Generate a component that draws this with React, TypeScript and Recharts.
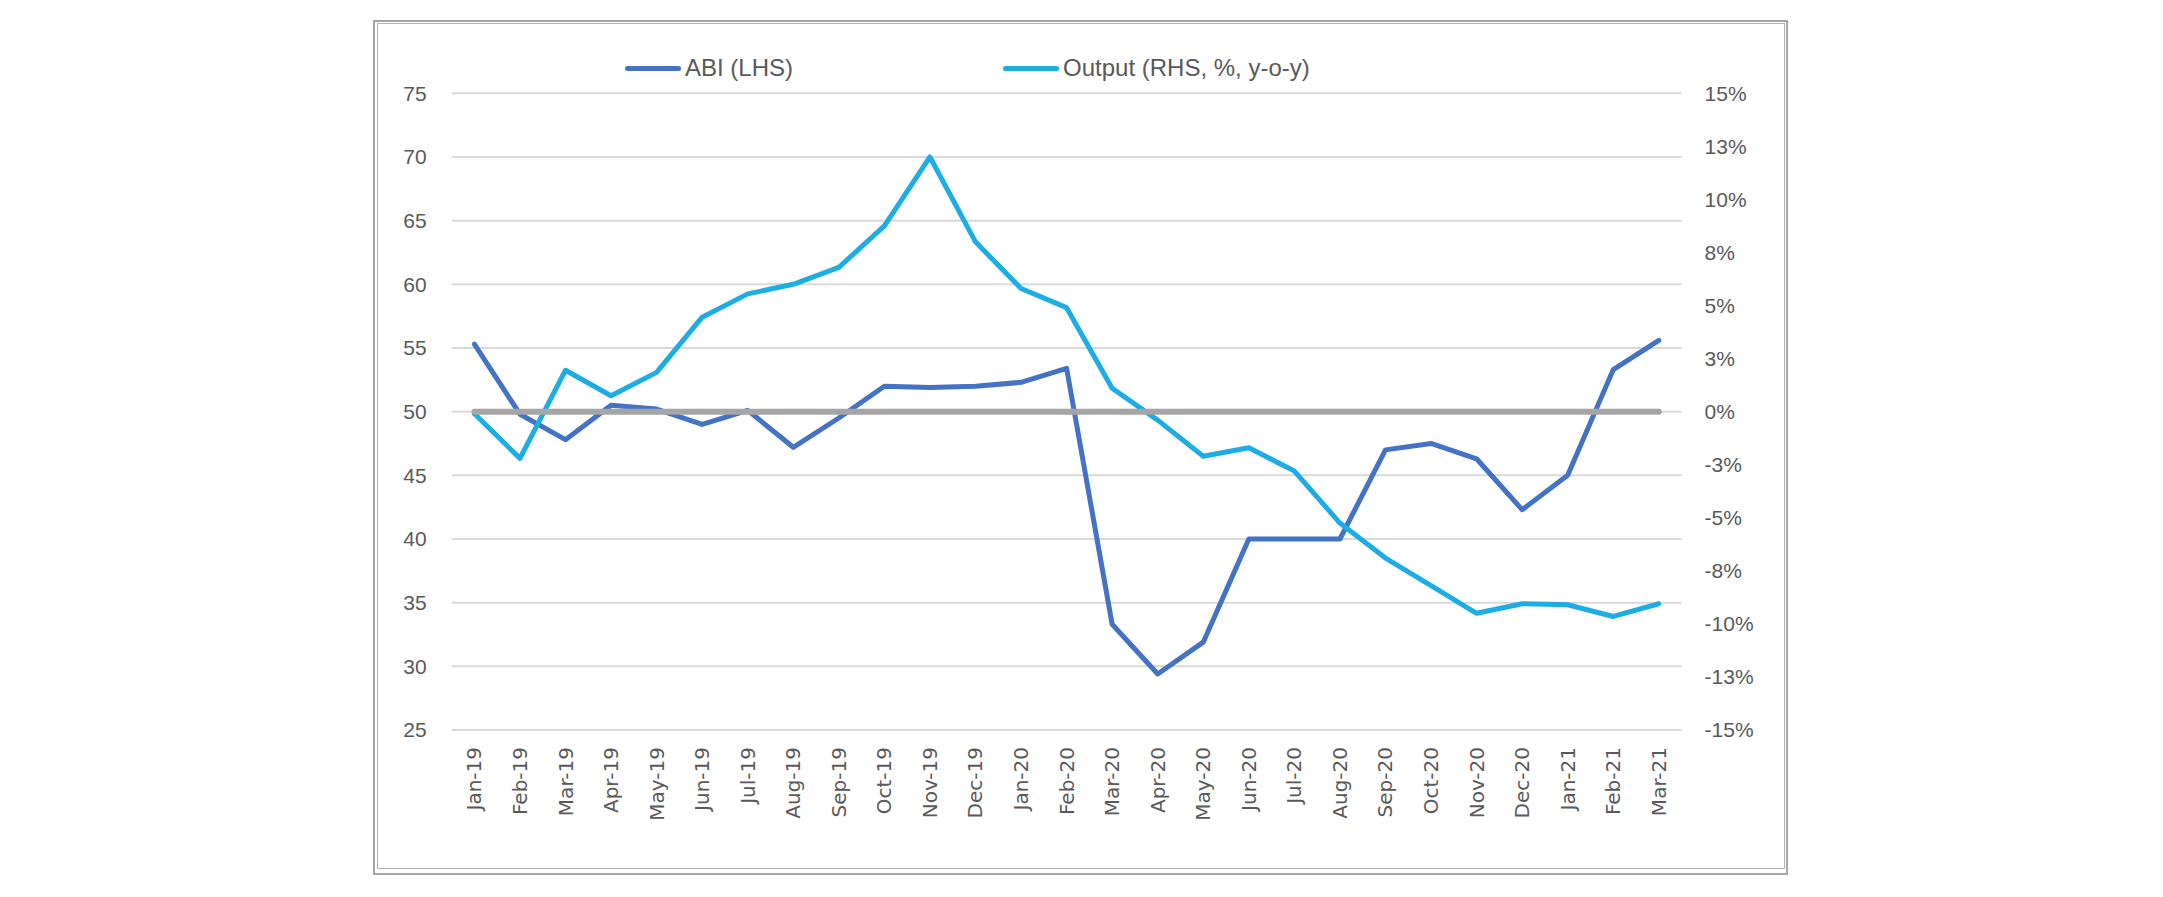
import React from 'react';
import { LineChart, Line, XAxis, YAxis, CartesianGrid, Legend } from 'recharts';

const months = [
  'Jan-19', 'Feb-19', 'Mar-19', 'Apr-19', 'May-19', 'Jun-19', 'Jul-19', 'Aug-19', 'Sep-19',
  'Oct-19', 'Nov-19', 'Dec-19', 'Jan-20', 'Feb-20', 'Mar-20', 'Apr-20', 'May-20', 'Jun-20',
  'Jul-20', 'Aug-20', 'Sep-20', 'Oct-20', 'Nov-20', 'Dec-20', 'Jan-21', 'Feb-21', 'Mar-21',
];

const abi = [
  55.3, 49.8, 47.8, 50.5, 50.2, 49.0, 50.1, 47.2, 49.5,
  52.0, 51.9, 52.0, 52.3, 53.4, 33.3, 29.4, 31.9, 40.0,
  40.0, 40.0, 47.0, 47.5, 46.3, 42.3, 45.0, 53.3, 55.6,
];

const output = [
  -0.1, -2.2, 1.95, 0.75, 1.85, 4.45, 5.55, 6.0, 6.8,
  8.75, 12.0, 8.0, 5.8, 4.9, 1.1, -0.4, -2.1, -1.7,
  -2.8, -5.25, -6.9, -8.2, -9.5, -9.05, -9.1, -9.65, -9.05,
];

const baseline = 50;

const leftTicks = [25, 30, 35, 40, 45, 50, 55, 60, 65, 70, 75];
const rightTicks = [-15, -12.5, -10, -7.5, -5, -2.5, 0, 2.5, 5, 7.5, 10, 12.5, 15];

const seriesNames = { abi: 'ABI (LHS)', output: 'Output (RHS, %, y-o-y)' };

const data = months.map((m, i) => ({ month: m, abi: abi[i], output: output[i], zero: baseline }));

const TEXT = '#595959';

const fmtPct = (v: number) => {
  const r = Math.sign(v) * Math.round(Math.abs(v));
  return `${r === 0 ? 0 : r}%`;
};

const XTick = (props: any) => {
  const { x, y, payload } = props;
  const ty = y + 17;
  return (
    <text
      x={x}
      y={ty}
      transform={`rotate(-90 ${x} ${ty})`}
      textAnchor="end"
      dominantBaseline="central"
      fill={TEXT}
      fontSize={20}
      fontFamily="'DejaVu Sans', Verdana, sans-serif"
    >
      {payload.value}
    </text>
  );
};

const renderLegend = (props: any) => {
  const { payload } = props;
  const items = (payload || []).filter((p: any) => p.type !== 'none' && p.dataKey !== 'zero');
  return (
    <div style={{ display: 'flex', alignItems: 'center', gap: 210 }}>
      {items.map((p: any) => (
        <div key={p.value} style={{ display: 'flex', alignItems: 'center' }}>
          <span
            style={{
              display: 'inline-block',
              width: 56,
              height: 5,
              borderRadius: 3,
              background: p.color,
              marginRight: 4,
            }}
          />
          <span style={{ fontFamily: "'Liberation Sans', Arial, sans-serif", fontSize: 24, color: TEXT, lineHeight: '28px' }}>
            {p.value}
          </span>
        </div>
      ))}
    </div>
  );
};

export default function App() {
  const W = 2140;
  const H = 880;
  return (
    <div style={{ position: 'relative', width: W, height: H }}>
      <LineChart
        width={W}
        height={H}
        data={data}
        margin={{ top: 85.3, right: 386.4, bottom: 58, left: 363.6 }}
      >
        <CartesianGrid yAxisId="left" vertical={false} stroke="#D9D9D9" strokeWidth={2} />
        <XAxis
          dataKey="month"
          interval={0}
          tickLine={false}
          axisLine={false}
          tickSize={0}
          tickMargin={0}
          padding={{ left: 22.8, right: 22.8 }}
          height={100}
          tick={<XTick />}
        />
        <YAxis
          yAxisId="left"
          domain={[25, 75]}
          ticks={leftTicks}
          interval={0}
          tickLine={false}
          axisLine={false}
          tickSize={0}
          tickMargin={25}
          width={80}
          tick={{ fill: TEXT, fontSize: 21, fontFamily: "'Liberation Sans', Arial, sans-serif" }}
        />
        <YAxis
          yAxisId="right"
          orientation="right"
          domain={[-15, 15]}
          ticks={rightTicks}
          interval={0}
          tickLine={false}
          axisLine={false}
          tickSize={0}
          tickMargin={23}
          width={80}
          tickFormatter={fmtPct}
          tick={{ fill: TEXT, fontSize: 21, fontFamily: "'Liberation Sans', Arial, sans-serif", textAnchor: 'start' }}
        />
        <Legend
          verticalAlign="middle"
          layout="horizontal"
          content={renderLegend}
          wrapperStyle={{ top: 46, left: 617, width: 'auto' }}
        />
        <Line
          yAxisId="left"
          type="linear"
          dataKey="abi"
          name={seriesNames.abi}
          stroke="#4472C4"
          strokeWidth={5}
          strokeLinecap="round"
          strokeLinejoin="round"
          dot={false}
          activeDot={false}
          isAnimationActive={false}
        />
        <Line
          yAxisId="right"
          type="linear"
          dataKey="output"
          name={seriesNames.output}
          stroke="#1CADE4"
          strokeWidth={5}
          strokeLinecap="round"
          strokeLinejoin="round"
          dot={false}
          activeDot={false}
          isAnimationActive={false}
        />
        <Line
          yAxisId="left"
          type="linear"
          dataKey="zero"
          stroke="#A5A5A5"
          strokeWidth={6}
          strokeLinecap="round"
          dot={false}
          activeDot={false}
          legendType="none"
          isAnimationActive={false}
        />
      </LineChart>
      <div
        style={{
          position: 'absolute',
          left: 365,
          top: 12,
          width: 1415,
          height: 855,
          border: '2px solid #A6A6A6',
          boxSizing: 'border-box',
          pointerEvents: 'none',
        }}
      />
      <div
        style={{
          position: 'absolute',
          left: 369,
          top: 15,
          width: 1408,
          height: 846,
          border: '1.5px solid #B0B0B0',
          boxSizing: 'border-box',
          pointerEvents: 'none',
        }}
      />
    </div>
  );
}
